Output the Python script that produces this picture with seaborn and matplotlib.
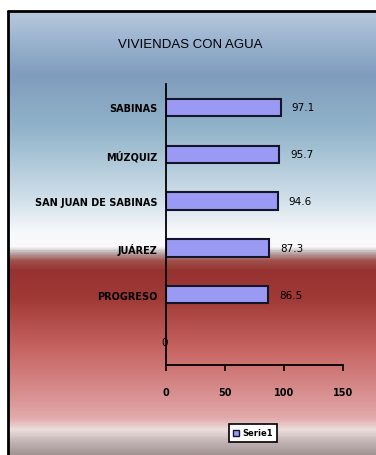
import numpy as np
import pandas as pd
import seaborn as sns
import matplotlib
matplotlib.use("Agg")
import matplotlib.pyplot as plt
from matplotlib.colors import LinearSegmentedColormap
from matplotlib.patches import Rectangle
from matplotlib.lines import Line2D

# Data
municipios = ["SABINAS", "MÚZQUIZ", "SAN JUAN DE SABINAS", "JUÁREZ", "PROGRESO", ""]
valores = [97.1, 95.7, 94.6, 87.3, 86.5, 0.0]
etiquetas_valor = ["97.1", "95.7", "94.6", "87.3", "86.5", "0"]
x_ticks = [0, 50, 100, 150]
titulo = "VIVIENDAS CON AGUA"
serie = "Serie1"

df = pd.DataFrame({"municipio": municipios, "valor": valores})

sns.set_theme(style="white")
plt.rcParams["font.family"] = ["DejaVu Sans"]
plt.rcParams["text.color"] = "black"
plt.rcParams["xtick.color"] = "black"
plt.rcParams["ytick.color"] = "black"
plt.rcParams["xtick.labelcolor"] = "black"
plt.rcParams["ytick.labelcolor"] = "black"

W, H, DPI = 376, 456, 100
fig = plt.figure(figsize=(W / DPI, H / DPI), dpi=DPI)
fig.patch.set_facecolor("white")

# Background panel with vertical gradient (blue sky over red band)
frame_left, frame_top = 8, 12
bg = fig.add_axes([frame_left / W, 0, 1 - frame_left / W, 1 - frame_top / H])
bg.set_axis_off()
stops_px = [12, 40, 75, 130, 200, 232, 248, 254, 262, 272, 300, 350, 390, 420, 432, 442, 456]
stops_rgb = [
    (184, 200, 220), (156, 180, 208), (128, 156, 190), (146, 180, 202),
    (208, 224, 234), (246, 248, 250), (250, 250, 252), (185, 170, 170),
    (160, 80, 75), (150, 50, 48), (160, 58, 55), (198, 100, 98),
    (214, 138, 138), (226, 170, 172), (236, 222, 220), (200, 186, 186),
    (165, 150, 150),
]
pos = [(p - 12) / (456 - 12) for p in stops_px]
cmap = LinearSegmentedColormap.from_list(
    "fondo", list(zip(pos, [tuple(c / 255 for c in rgb) for rgb in stops_rgb]))
)
grad = np.linspace(0, 1, 600).reshape(-1, 1)
bg.imshow(grad, aspect="auto", cmap=cmap, extent=[0, 1, 0, 1], origin="upper")
bg.set_xlim(0, 1)
bg.set_ylim(0, 1)

# Frame: left and top black lines
fig.add_artist(Line2D([frame_left / W, frame_left / W], [0, 1 - frame_top / H],
                      transform=fig.transFigure, color="black", lw=2))
fig.add_artist(Line2D([frame_left / W, 1], [1 - frame_top / H, 1 - frame_top / H],
                      transform=fig.transFigure, color="black", lw=2))

# Main plot area
ax = fig.add_axes([166 / W, 1 - 366 / H, (343 - 166) / W, (366 - 85) / H])
ax.patch.set_alpha(0)
sns.barplot(data=df, y="municipio", x="valor", orient="h", ax=ax,
            color="#9a9af5", edgecolor="#15152a", linewidth=1.5, width=0.37,
            saturation=1)

ax.set_xlim(0, 150)
ax.set_xticks(x_ticks)
ax.set_xticklabels([str(t) for t in x_ticks], fontsize=7, fontweight="bold")
ax.set_xlabel("")
ax.set_ylabel("")
ax.tick_params(axis="x", direction="out", length=4, width=1.2, color="black",
               pad=12, bottom=True)
ax.tick_params(axis="y", length=0, pad=6)
for lab in ax.get_yticklabels():
    lab.set_fontsize(7)
    lab.set_fontweight("bold")
    lab.set_color("black")
for side in ["top", "right"]:
    ax.spines[side].set_visible(False)
for side in ["left", "bottom"]:
    ax.spines[side].set_color("black")
    ax.spines[side].set_linewidth(1.3)

# Value labels
for i, (v, t) in enumerate(zip(valores, etiquetas_valor)):
    if v > 0:
        ax.annotate(t, (v, i), xytext=(8, 0), textcoords="offset points",
                    ha="left", va="center", fontsize=7.5, color="black")
    else:
        ax.annotate(t, (v, i), xytext=(-1, 0), textcoords="offset points",
                    ha="center", va="center", fontsize=7.5, color="black")

# Title
fig.text(190 / W, 1 - 45 / H, titulo, ha="center", va="center", fontsize=9.5,
         color="black",
         family=["Liberation Sans Narrow", "Liberation Sans", "DejaVu Sans"])

# Legend
handle = Rectangle((0, 0), 1, 1, facecolor="#9a9af5", edgecolor="#15152a", lw=1)
leg = fig.legend([handle], [serie], loc="center",
                 bbox_to_anchor=(253 / W, 1 - 434 / H), frameon=True,
                 fontsize=6, handlelength=0.7, handleheight=0.7,
                 handletextpad=0.4, borderpad=0.5, fancybox=False)
leg.get_frame().set_edgecolor("black")
leg.get_frame().set_linewidth(1.2)
leg.get_frame().set_facecolor("white")
leg.get_frame().set_alpha(1)
for t in leg.get_texts():
    t.set_fontweight("bold")
    t.set_color("black")

fig.savefig("out.png", dpi=DPI)
